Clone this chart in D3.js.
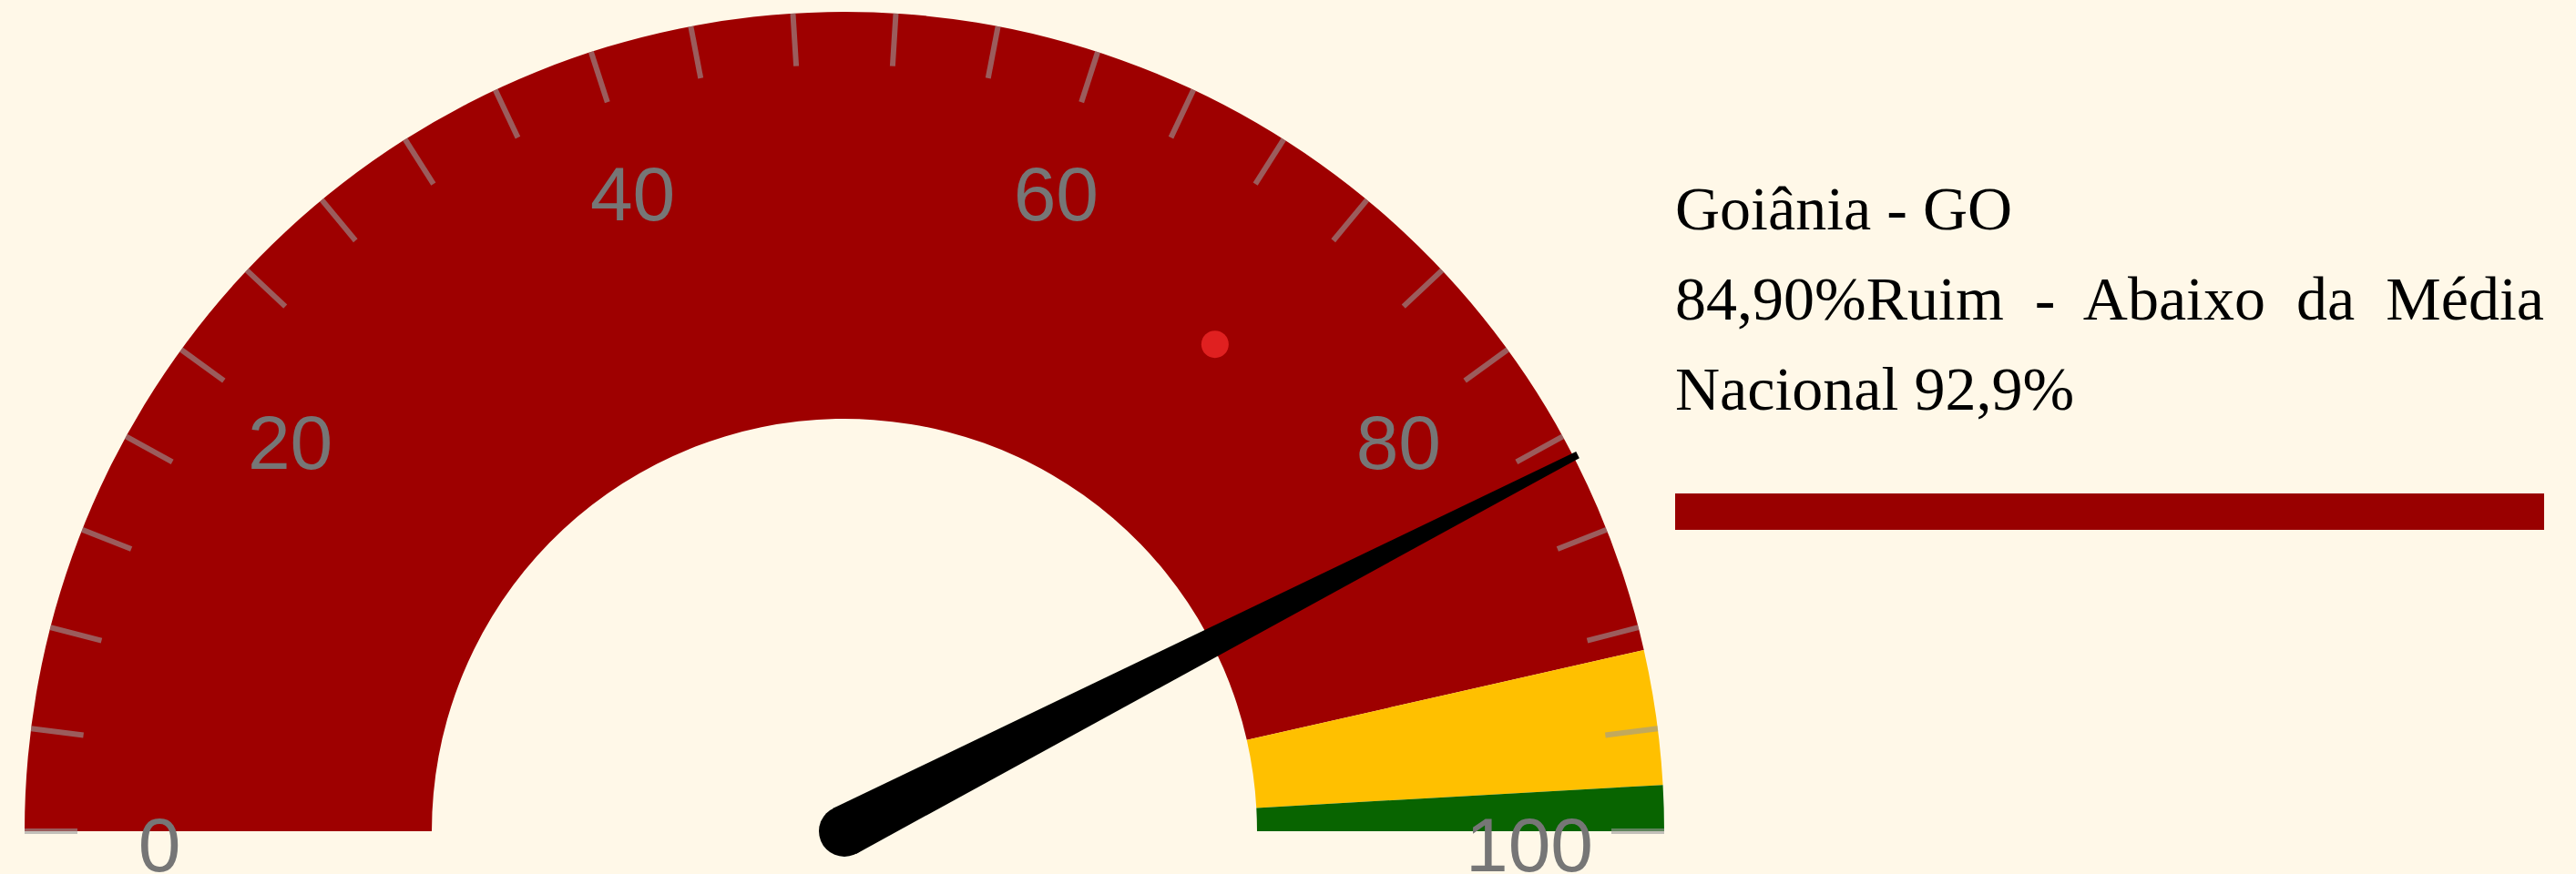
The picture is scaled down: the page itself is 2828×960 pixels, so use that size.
<!DOCTYPE html>
<meta charset="utf-8">
<style>
    body {
      margin: 0;
      background: #fff8e8;
    }
    .tick-line {
      stroke: rgba(153, 153, 153, 0.6);
      stroke-width: 6px;
    }
    .tick-label {
      font: 84px "Liberation Sans", Arial, sans-serif;
      fill: #767676;
    }
    .info {
      font: 68px "Liberation Serif", serif;
      fill: #000;
    }
</style>
<body>
<script src="https://d3js.org/d3.v7.min.js"></script>
<script>
    // gauge data
    var gaugeValue = 84.9;
    var bandStops = [0, 92.9, 98.2, 100];
    var bandColors = ["#9e0000", "#ffc000", "#086400"];
    var tickValues = d3.range(0, 101, 4);
    var labelValues = [0, 20, 40, 60, 80, 100];
    var markerValue = 70.7;
    var infoLines = ["Goiânia - GO", "84,90%Ruim - Abaixo da Média", "Nacional 92,9%"];
    var statusBar = [100];

    var width = 2828, height = 960;
    var cx = 927, cy = 913;
    var outerR = 900, innerR = 453;

    var svg = d3.select("body").append("svg")
        .attr("width", width)
        .attr("height", height);

    // value -> angle (radians, d3.arc convention: 0 is up)
    var angle = d3.scaleLinear()
        .domain([0, 100])
        .range([-Math.PI / 2, Math.PI / 2]);

    function polar(v, r) {
        var a = angle(v);
        return [cx + r * Math.sin(a), cy - r * Math.cos(a)];
    }

    var g = svg.append("g");

    var arc = d3.arc()
        .innerRadius(innerR)
        .outerRadius(outerR);

    var bands = d3.range(bandColors.length).map(function(i) {
        return {from: bandStops[i], to: bandStops[i + 1], color: bandColors[i]};
    });

    g.append("g")
        .attr("transform", "translate(" + cx + "," + cy + ")")
      .selectAll("path")
      .data(bands)
      .enter().append("path")
        .attr("d", function(d) {
            return arc({startAngle: angle(d.from), endAngle: angle(d.to)});
        })
        .attr("fill", function(d) { return d.color; });

    // ticks
    g.selectAll(".tick-line")
      .data(tickValues)
      .enter().append("line")
        .attr("class", "tick-line")
        .attr("x1", function(d) { return polar(d, outerR)[0]; })
        .attr("y1", function(d) { return polar(d, outerR)[1]; })
        .attr("x2", function(d) { return polar(d, outerR - 58)[0]; })
        .attr("y2", function(d) { return polar(d, outerR - 58)[1]; });

    g.selectAll(".tick-label")
      .data(labelValues)
      .enter().append("text")
        .attr("class", "tick-label")
        .attr("text-anchor", "middle")
        .attr("x", function(d) { return polar(d, 752)[0]; })
        .attr("y", function(d) { return polar(d, 752)[1] + 44; })
        .text(function(d) { return d; });

    // small marker dot
    g.append("circle")
        .attr("cx", polar(markerValue, 672)[0])
        .attr("cy", polar(markerValue, 672)[1])
        .attr("r", 15)
        .attr("fill", "#e02020");

    // needle
    var tip = polar(gaugeValue, 905);
    var a = angle(gaugeValue);
    var px = Math.cos(a), py = Math.sin(a); // perpendicular
    var baseW = 28, tipW = 4;
    var needle = [
        [cx + px * baseW, cy + py * baseW],
        [tip[0] + px * tipW, tip[1] + py * tipW],
        [tip[0] - px * tipW, tip[1] - py * tipW],
        [cx - px * baseW, cy - py * baseW]
    ];
    g.append("path")
        .attr("d", d3.line()(needle) + "Z")
        .attr("fill", "#000");
    g.append("circle")
        .attr("cx", cx)
        .attr("cy", cy)
        .attr("r", baseW)
        .attr("fill", "#000");

    // info text on the right
    var textX = 1839, textRight = 2793;
    var info = svg.append("g");
    info.selectAll("text")
      .data(infoLines)
      .enter().append("text")
        .attr("class", "info")
        .attr("x", textX)
        .attr("y", function(d, i) { return 252 + i * 99; })
        .text(function(d) { return d; })
        .each(function(d, i) {
            // second line is justified to the bar width
            if (i === 1) {
                var natural = this.getComputedTextLength();
                var spaces = d.split(" ").length - 1;
                d3.select(this).attr("word-spacing", (textRight - textX - natural) / spaces);
            }
        });

    var barX = d3.scaleLinear().domain([0, 100]).range([textX, textRight]);
    svg.selectAll(".status-bar")
      .data(statusBar)
      .enter().append("rect")
        .attr("class", "status-bar")
        .attr("x", barX(0))
        .attr("y", 542)
        .attr("width", function(d) { return barX(d) - barX(0); })
        .attr("height", 40)
        .attr("fill", "#990000");
</script>
</body>
